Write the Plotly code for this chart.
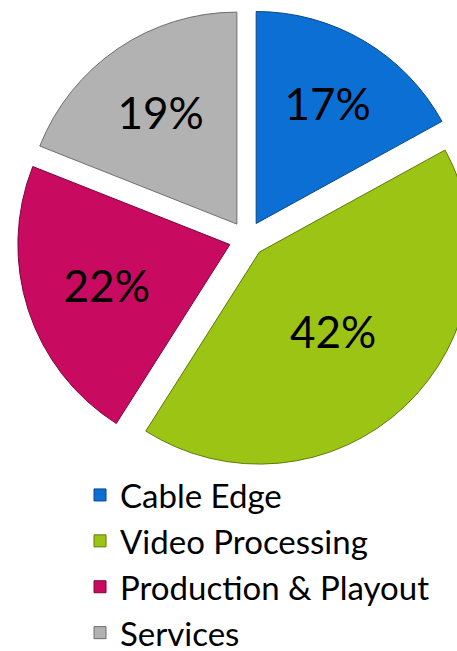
import plotly.graph_objects as go

labels = ["Cable Edge", "Video Processing", "Production & Playout", "Services"]
values = [17, 42, 22, 19]
colors = ["#0B6FD4", "#9CC414", "#C80A60", "#B2B2B2"]
edge_colors = ["#06468A", "#5F7A0A", "#7E053B", "#6E6E6E"]

W, H = 494, 661

fig = go.Figure(go.Pie(
    labels=labels,
    values=values,
    sort=False,
    direction="clockwise",
    rotation=0,
    pull=0.085,
    marker=dict(colors=colors, line=dict(color=edge_colors, width=1)),
    textinfo="percent",
    texttemplate="%{percent:.0%}",
    textposition="inside",
    insidetextorientation="horizontal",
    textfont=dict(family="Lato", size=44, color="black"),
    domain=dict(x=[0, 1], y=[0.2905, 0.9864]),
    hoverinfo="label+percent",
))

fig.update_layout(
    width=W, height=H,
    margin=dict(l=0, r=0, t=0, b=0),
    paper_bgcolor="white",
    plot_bgcolor="white",
    showlegend=True,
    legend=dict(
        x=0.162, xanchor="left",
        y=0.0, yanchor="bottom",
        font=dict(family="Lato", size=33, color="black"),
        bgcolor="rgba(0,0,0,0)",
        traceorder="normal",
    ),
)

fig.write_html("out.html")
